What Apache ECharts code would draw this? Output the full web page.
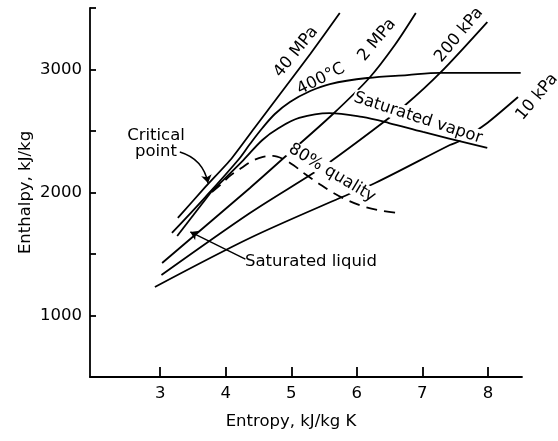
<!DOCTYPE html>
<html>
<head>
    <meta charset="utf-8">
    <title>Enthalpy - entropy</title>
    <style>
        html, body { margin: 0; padding: 0; background: #fff; }
        #charts { width: 558px; height: 441px; }
    </style>
</head>
<body>
<div id="charts"></div>
<script src="https://cdn.jsdelivr.net/npm/echarts@6.0.0/dist/echarts.min.js"></script>
<script>
    // entropy (kJ/kg K), enthalpy (kJ/kg)
    var p40MPa = [[3.27, 1793], [3.69, 2045], [4.07, 2264], [4.45, 2533], [4.83, 2801], [5.29, 3126], [5.74, 3459]];
    var t400C = [[3.18, 1671], [3.69, 1963], [4.19, 2264], [4.37, 2394], [4.56, 2524], [4.75, 2638], [4.98, 2736],
        [5.29, 2825], [5.59, 2882], [6.16, 2931], [6.77, 2955], [7.27, 2972], [8.5, 2972]];
    var satLiquid = [[3.26, 1646], [3.79, 2012]];
    var satVapor = [[3.79, 2012], [4.27, 2264], [4.56, 2427], [4.81, 2524], [5.12, 2606], [5.58, 2646],
        [6.08, 2614], [6.49, 2565], [7.01, 2492], [7.99, 2362]];
    var p2MPa = [[3.03, 1427], [4.37, 2037], [4.97, 2321], [5.62, 2630], [6.19, 2931], [6.58, 3199], [6.90, 3459]];
    var p200kPa = [[3.02, 1329], [4.37, 1833], [5.29, 2142], [5.59, 2248], [6.25, 2508], [6.74, 2711], [7.27, 2972], [7.99, 3386]];
    var p10kPa = [[2.92, 1232], [4.37, 1630], [5.74, 1955], [6.28, 2077], [7.42, 2386], [7.57, 2419], [7.99, 2565], [8.46, 2776]];
    var quality80 = [[3.79, 2004], [3.95, 2077], [4.08, 2142], [4.24, 2199], [4.40, 2256], [4.57, 2289], [4.72, 2297],
        [4.88, 2272], [5.03, 2224], [5.21, 2150], [5.41, 2077], [5.62, 2004], [5.85, 1939], [6.08, 1890], [6.32, 1858], [6.63, 1833]];

    var criticalArrow = [[3.30, 2329], [3.73, 2077]];
    var liquidArrow = [[4.30, 1459], [3.46, 1679]];

    var xTicks = [3, 4, 5, 6, 7, 8];
    var yLabelled = [1000, 2000, 3000];

    var ink = '#000';
    var font = '16.5px "DejaVu Sans"';

    var myChart = echarts.init(document.getElementById('charts'), null, {renderer: 'canvas'});

    function curve(data, z, smooth, dashed) {
        return {
            type: 'line',
            data: data,
            symbol: 'none',
            smooth: smooth,
            z: z,
            silent: true,
            lineStyle: {color: ink, width: 1.8, type: dashed ? [11, 7] : 'solid'}
        };
    }

    function arrow(coords, curveness) {
        return {
            type: 'lines',
            coordinateSystem: 'cartesian2d',
            symbol: ['none', 'arrow'],
            symbolSize: 8,
            z: 5,
            silent: true,
            lineStyle: {color: ink, width: 1.4, curveness: curveness, opacity: 1},
            data: [{coords: coords}]
        };
    }

    function label(text, x, y, deg, box) {
        return {
            type: 'text',
            x: x,
            y: y,
            rotation: deg * Math.PI / 180,
            z: 3,
            style: {
                text: text,
                font: font,
                fill: ink,
                align: 'center',
                verticalAlign: 'middle',
                backgroundColor: box ? '#fff' : null,
                padding: box ? [0, 1] : 0
            }
        };
    }

    var option = {
        animation: false,
        textStyle: {fontFamily: 'DejaVu Sans'},
        grid: {left: 90, right: 36, top: 8, bottom: 64, outerBoundsMode: 'none'},
        xAxis: {
            type: 'value',
            min: 1.93,
            max: 8.52,
            name: 'Entropy, kJ/kg K',
            nameLocation: 'middle',
            nameGap: 36,
            nameMoveOverlap: false,
            nameTextStyle: {color: ink, fontSize: 16.5, padding: [0, 30, 0, 0]},
            axisLine: {lineStyle: {color: ink, width: 1.8}},
            axisTick: {inside: true, length: 10, customValues: xTicks, lineStyle: {color: ink, width: 1.8}},
            axisLabel: {customValues: xTicks, color: ink, fontSize: 16.5, margin: 8},
            splitLine: {show: false}
        },
        yAxis: {
            type: 'value',
            min: 500,
            max: 3500,
            interval: 500,
            name: 'Enthalpy, kJ/kg',
            nameLocation: 'middle',
            nameGap: 56,
            nameMoveOverlap: false,
            nameTextStyle: {color: ink, fontSize: 16.5},
            axisLine: {show: true, lineStyle: {color: ink, width: 1.8}},
            axisTick: {show: true, inside: true, length: 6, lineStyle: {color: ink, width: 1.8}},
            axisLabel: {
                color: ink, fontSize: 16.5, margin: 8,
                formatter: function (v) {
                    return yLabelled.indexOf(v) >= 0 ? String(v) : '';
                }
            },
            splitLine: {show: false}
        },
        series: [
            curve(p40MPa, 2, 0.2),
            curve(t400C, 2, 0.35),
            curve(p2MPa, 2, 0.3),
            curve(p200kPa, 2, 0.3),
            curve(p10kPa, 2, 0.3),
            curve(satLiquid, 4, false),
            curve(satVapor, 4, 0.35),
            curve(quality80, 4, 0.35, true),
            arrow(criticalArrow, 0.3),
            arrow(liquidArrow, 0)
        ],
        graphic: [
            label('40 MPa', 296, 52, 51),
            label('2 MPa', 377, 40, 50),
            label('200 kPa', 459, 35, 50),
            label('10 kPa', 537, 97, 50),
            label('400°C', 321, 79, 27),
            label('Saturated vapor', 418, 118, -18, true),
            label('80% quality', 332, 173, -31, true),
            {
                type: 'text', x: 156, y: 144, z: 3,
                style: {text: 'Critical\npoint', font: font, fill: ink, align: 'center', verticalAlign: 'middle', lineHeight: 16}
            },
            {
                type: 'text', x: 245, y: 262, z: 3,
                style: {text: 'Saturated liquid', font: font, fill: ink, align: 'left', verticalAlign: 'middle'}
            }
        ]
    };

    myChart.setOption(option);
</script>
</body>
</html>
